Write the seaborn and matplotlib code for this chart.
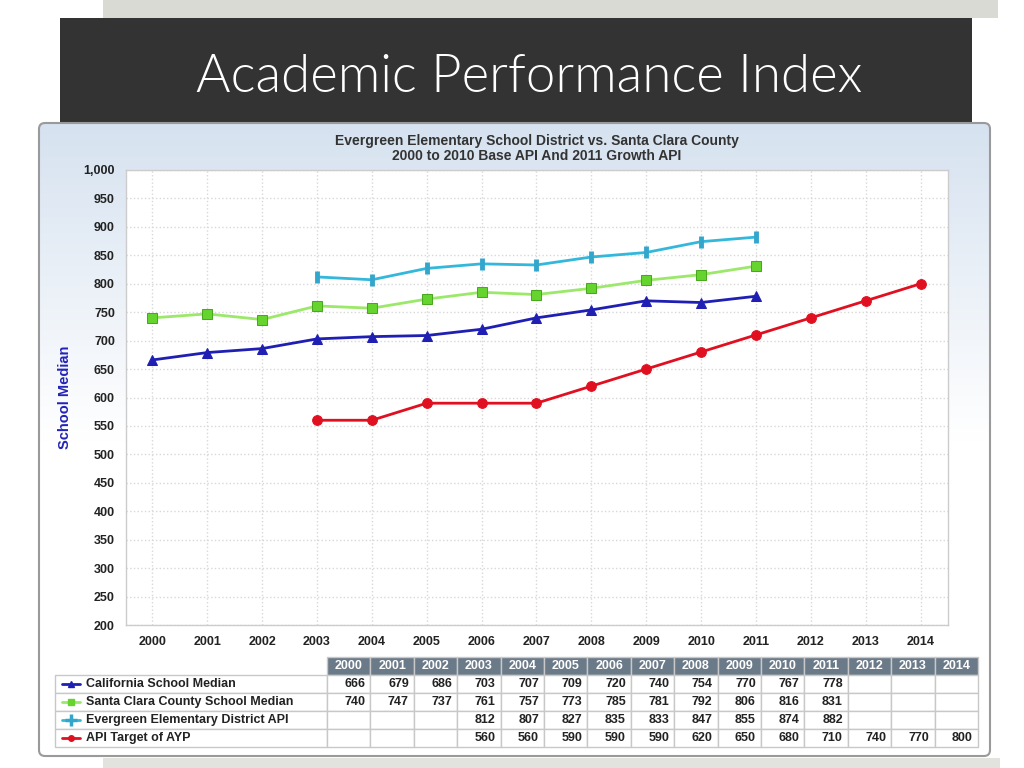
import numpy as np
import pandas as pd
import seaborn as sns
import matplotlib.pyplot as plt
from matplotlib.patches import Rectangle, FancyBboxPatch

years = list(range(2000, 2015))
ca_years = list(range(2000, 2012))
ca_median = [666, 679, 686, 703, 707, 709, 720, 740, 754, 770, 767, 778]
sc_years = list(range(2000, 2012))
sc_median = [740, 747, 737, 761, 757, 773, 785, 781, 792, 806, 816, 831]
ev_years = list(range(2003, 2012))
ev_api = [812, 807, 827, 835, 833, 847, 855, 874, 882]
ayp_years = list(range(2003, 2015))
ayp_target = [560, 560, 590, 590, 590, 620, 650, 680, 710, 740, 770, 800]

series = [
    ("California School Median", ca_years, ca_median, "#1f1fb4", "#1f1fb4", "^"),
    ("Santa Clara County School Median", sc_years, sc_median, "#9be86a", "#66d42e", "s"),
    ("Evergreen Elementary District API", ev_years, ev_api, "#33b8dc", "#33a6cc", "|"),
    ("API Target of AYP", ayp_years, ayp_target, "#e01020", "#e01020", "o"),
]

sns.set_theme(style="white")
plt.rcParams['font.family'] = ['Liberation Sans', 'DejaVu Sans']

fig = plt.figure(figsize=(10.24, 7.68), dpi=100)
fig.patch.set_facecolor("white")

# background in pixel coordinates
bg = fig.add_axes([0, 0, 1, 1], zorder=0)
bg.set_xlim(0, 1024)
bg.set_ylim(768, 0)
bg.axis("off")
bg.add_patch(Rectangle((103, 0), 895, 18, color="#d9dad3", lw=0))
bg.add_patch(Rectangle((103, 758), 897, 10, color="#e2e3de", lw=0))
bg.add_patch(Rectangle((60, 18), 912, 105, color="#333333", lw=0))
bg.text(529, 78, "Academic Performance Index", color="white", fontsize=38,
        family=["Lato", "DejaVu Sans"], fontweight=300, ha="center", va="center")

panel = FancyBboxPatch((39, 123), 951, 633, boxstyle="round,pad=0,rounding_size=6",
                       fc="none", ec="#9a9a9a", lw=1.5, zorder=3)
bg.add_patch(panel)
grad = np.linspace(0, 1, 256).reshape(-1, 1)
img = bg.imshow(grad, extent=(39, 990, 756, 123), aspect="auto",
                cmap=plt.matplotlib.colors.LinearSegmentedColormap.from_list(
                    "g", ["#d6e2f0", "#ffffff", "#ffffff"]), zorder=1)
img.set_clip_path(panel)

bg.text(537, 141, "Evergreen Elementary School District vs. Santa Clara County",
        fontsize=10, fontweight="bold", color="#333333", ha="center", va="center", zorder=4)
bg.text(537, 156, "2000 to 2010 Base API And 2011 Growth API",
        fontsize=10, fontweight="bold", color="#333333", ha="center", va="center", zorder=4)

# main chart
ax = fig.add_axes([126 / 1024, 1 - 625 / 768, 822 / 1024, 455 / 768], zorder=2)
ax.set_facecolor("white")
for label, xs, ys, lc, mc, mk in series:
    df = pd.DataFrame({"year": xs, "value": ys})
    kw = dict(markersize=7, markerfacecolor=mc, markeredgecolor=mc)
    if mk == "|":
        kw = dict(markersize=9, markeredgewidth=3.5, markeredgecolor=mc)
    elif mk == "s":
        kw["markeredgecolor"] = "#4aa820"
    sns.lineplot(data=df, x="year", y="value", ax=ax, color=lc, marker=mk,
                 linewidth=2, label=label, legend=False, **kw)

ax.set_xlim(1999.52, 2014.5)
ax.set_ylim(200, 1000)
ax.set_xticks(years)
ax.set_yticks(range(200, 1001, 50))
ax.set_yticklabels([f"{v:,}" for v in range(200, 1001, 50)])
ax.grid(True, color="#d8d8d8", linestyle=":", linewidth=1)
ax.tick_params(axis="both", labelsize=9, colors="#222222", length=0, pad=8)
for t in ax.get_xticklabels() + ax.get_yticklabels():
    t.set_fontweight("bold")
ax.set_xlabel("")
ax.set_ylabel("School Median", fontsize=10.5, fontweight="bold", color="#2323b8", labelpad=8)
for s in ax.spines.values():
    s.set_color("#cccccc")
    s.set_linewidth(1)

# data table under the chart
x0, x1 = 55, 327
col_w = (978 - 327) / len(years)
top, row_h = 657, 18
for i, yr in enumerate(years):
    cx = x1 + i * col_w
    bg.add_patch(Rectangle((cx, top), col_w, row_h, fc="#6b7a88", ec="#c8c8c8", lw=1, zorder=4))
    bg.text(cx + col_w / 2, top + row_h / 2, str(yr), color="white", fontsize=9,
            fontweight="bold", ha="center", va="center", zorder=5)
for r, (label, xs, ys, lc, mc, mk) in enumerate(series):
    ry = top + row_h * (r + 1)
    bg.add_patch(Rectangle((x0, ry), x1 - x0, row_h, fc="white", ec="#c8c8c8", lw=1, zorder=4))
    bg.plot([62, 80], [ry + row_h / 2] * 2, color=lc, lw=2, zorder=5)
    if mk == "|":
        bg.plot([71], [ry + row_h / 2], marker="+", color=mc, markersize=8, mew=2.5, zorder=6)
    else:
        bg.plot([71], [ry + row_h / 2], marker=mk, color=mc, markersize=4, zorder=6)
    bg.text(86, ry + row_h / 2, label, fontsize=9, fontweight="bold", color="#222222",
            ha="left", va="center", zorder=5)
    vals = dict(zip(xs, ys))
    for i, yr in enumerate(years):
        cx = x1 + i * col_w
        bg.add_patch(Rectangle((cx, ry), col_w, row_h, fc="white", ec="#c8c8c8", lw=1, zorder=4))
        if yr in vals:
            bg.text(cx + col_w - 5, ry + row_h / 2, str(vals[yr]), fontsize=9,
                    fontweight="bold", color="#222222", ha="right", va="center", zorder=5)

fig.savefig("out.png", dpi=100)
